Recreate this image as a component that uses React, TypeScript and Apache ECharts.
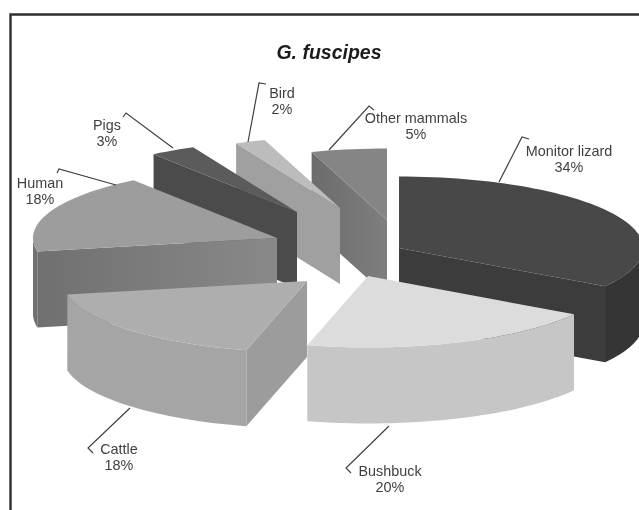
import React, { useEffect, useRef } from "react";
import * as echarts from "echarts";

const chartTitle = "G. fuscipes";
const categories = ["Monitor lizard", "Bushbuck", "Cattle", "Human", "Pigs", "Bird", "Other mammals"];
const shares = [34, 20, 18, 18, 3, 2, 5];

// Presentation only: exploded apex of each slice, label centres, leader lines, shades.
const apexes = [[399, 248], [368, 276], [307, 281], [277, 238], [297, 212], [340, 208], [387, 220]];
const labelCentres = [[569, 159], [390, 479], [119, 457], [40, 191], [107, 133], [282, 101], [416, 126]];
const leaders = [
  [[499, 182], [522, 137], [529, 139]],
  [[389, 426], [346, 468], [351, 473]],
  [[130, 408], [88, 448], [93, 453]],
  [[116, 185], [59, 169], [57, 173]],
  [[173, 148], [126, 113], [123, 117]],
  [[248, 142], [259, 83], [266, 84]],
  [[329, 150], [369, 106], [374, 110]],
];
const topColors = ["#484848", "#dcdcdc", "#aeaeae", "#9d9d9d", "#5b5b5b", "#bcbcbc", "#858585"];
const radialColors: any[] = [
  "#3c3c3c", "#c6c6c6", "#9c9c9c", ["#707070", "#898989"], "#4b4b4b", "#a0a0a0", ["#6c6c6c", "#7e7e7e"],
];
const outerColors = ["#353535", "#c6c6c6", "#a5a5a5", "#707070", "#4b4b4b", "#a0a0a0", "#757575"];
const drawOrder = [6, 5, 4, 0, 3, 2, 1];

const RX = 244;
const RY = 71.5;
const DEPTH = 76;
const TEXT = "#3f3f3f";
const FONT_FAMILY = "'Liberation Sans', Arial, sans-serif";

const total = shares.reduce((a, b) => a + b, 0);
const startAngles: number[] = [];
shares.reduce((acc, v, i) => {
  startAngles[i] = acc;
  return acc + (v / total) * 360;
}, 0);

function rimPoint(i: number, deg: number, dy = 0): number[] {
  const r = (deg * Math.PI) / 180;
  return [apexes[i][0] + RX * Math.sin(r), apexes[i][1] - RY * Math.cos(r) + dy];
}

function arcPoints(i: number, a: number, b: number, dy = 0): number[][] {
  const n = Math.max(2, Math.ceil(Math.abs(b - a) / 2));
  const pts: number[][] = [];
  for (let k = 0; k <= n; k++) pts.push(rimPoint(i, a + ((b - a) * k) / n, dy));
  return pts;
}

function paint(c: any) {
  if (!Array.isArray(c)) return c;
  return {
    type: "linear", x: 0, y: 0, x2: 1, y2: 0,
    colorStops: [{ offset: 0, color: c[0] }, { offset: 1, color: c[1] }],
  };
}

function poly(points: number[][], fill: any) {
  return { type: "polygon", shape: { points }, style: { fill: paint(fill), stroke: null }, silent: true };
}

function renderSlice(params: any, api: any) {
  const i = drawOrder[params.dataIndex];
  const a = startAngles[i];
  const b = a + (Number(api.value(0)) / total) * 360;
  const ap = apexes[i];
  const apexLow = [ap[0], ap[1] + DEPTH];
  const children: any[] = [];

  const radial = (deg: number) => {
    const p = rimPoint(i, deg);
    children.push(poly([ap, p, [p[0], p[1] + DEPTH], apexLow], radialColors[i]));
  };
  // A cut face shows when its outward normal points toward the viewer.
  if (a > 180) radial(a);
  if (b < 180) radial(b);

  const va = Math.max(a, 90);
  const vb = Math.min(b, 270);
  if (vb > va) {
    const upper = arcPoints(i, va, vb);
    const lower = arcPoints(i, va, vb, DEPTH).reverse();
    children.push(poly([...upper, ...lower], outerColors[i]));
  }
  children.push(poly([ap, ...arcPoints(i, a, b)], topColors[i]));
  return { type: "group", children };
}

function renderLabel(params: any, api: any) {
  const i = params.dataIndex;
  return {
    type: "group",
    children: [
      {
        type: "polyline",
        shape: { points: leaders[i] },
        style: { stroke: "#404040", lineWidth: 1.2, fill: null },
        silent: true,
      },
      {
        type: "text",
        x: labelCentres[i][0],
        y: labelCentres[i][1],
        style: {
          text: `${categories[i]}\n${api.value(0)}%`,
          fill: TEXT,
          fontFamily: FONT_FAMILY,
          fontSize: 14.4,
          lineHeight: 16.5,
          align: "center",
          verticalAlign: "middle",
        },
        silent: true,
      },
    ],
  };
}

export default function App() {
  const ref = useRef<HTMLDivElement>(null);
  useEffect(() => {
    const chart = echarts.init(ref.current!, null, { renderer: "svg" });
    chart.setOption({
      animation: false,
      backgroundColor: "#ffffff",
      title: {
        text: chartTitle,
        left: 324,
        top: 37,
        textAlign: "center",
        textStyle: {
          fontFamily: FONT_FAMILY,
          fontSize: 19.5,
          fontWeight: "bold",
          fontStyle: "italic",
          color: "#1c1c1c",
        },
      },
      graphic: [
        {
          type: "polyline",
          z: 100,
          silent: true,
          shape: { points: [[10.5, 520], [10.5, 14.5], [650, 14.5]] },
          style: { stroke: "#2e2e2e", lineWidth: 2.4, fill: null },
        },
      ],
      series: [
        {
          type: "custom",
          coordinateSystem: "none",
          silent: true,
          clip: false,
          z: 2,
          renderItem: renderSlice,
          data: drawOrder.map((i) => shares[i]),
        },
        {
          type: "custom",
          coordinateSystem: "none",
          silent: true,
          clip: false,
          z: 3,
          renderItem: renderLabel,
          data: shares,
        },
      ],
    });
    return () => chart.dispose();
  }, []);
  return (
    <div
      ref={ref}
      style={{ position: "absolute", left: 0, top: 0, width: 639, height: 510, overflow: "hidden", filter: "blur(0.6px)" }}
    />
  );
}
